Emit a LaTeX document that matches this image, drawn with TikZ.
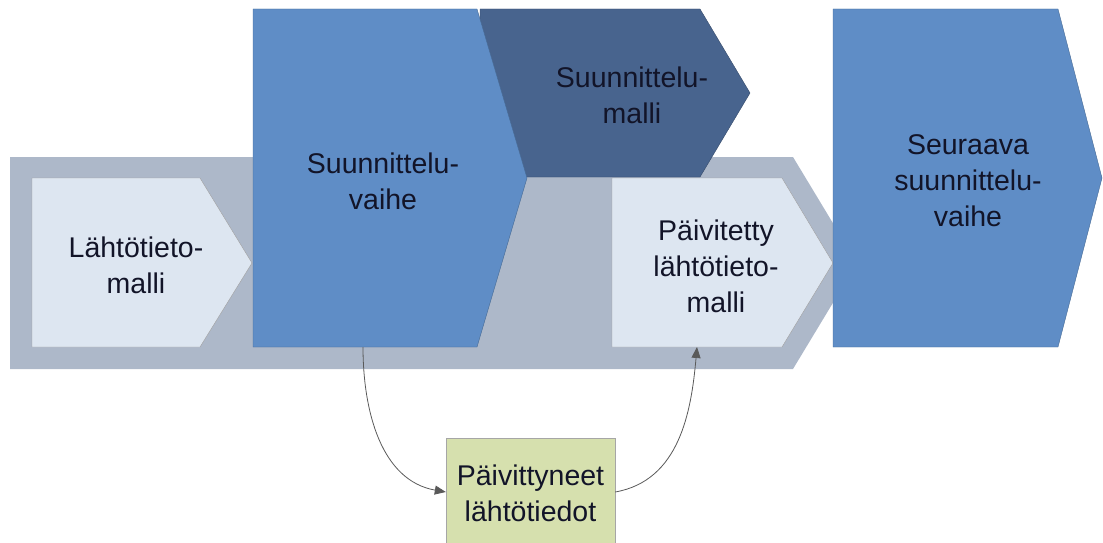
\documentclass[tikz,border=0pt]{standalone}
\usepackage{fontspec}
\setmainfont{Liberation Sans}
\usetikzlibrary{arrows.meta}

\definecolor{bandgray}{RGB}{173,184,201}
\definecolor{lightfill}{RGB}{221,230,241}
\definecolor{midblue}{RGB}{95,141,198}
\definecolor{darkblue}{RGB}{72,100,142}
\definecolor{greenfill}{RGB}{214,224,174}
\definecolor{textnavy}{RGB}{18,20,40}

\tikzset{
	band/.style = {fill = bandgray},
	lightbox/.style = {fill = lightfill, draw = gray!75},
	phasebox/.style = {fill = midblue, draw = midblue!75!black},
	modelbox/.style = {fill = darkblue, draw = darkblue!75!black},
	databox/.style = {fill = greenfill, draw = gray!70, inner sep = 0pt},
	label/.style = {align = center, inner sep = 0pt, text = textnavy,
		font = \fontsize{28.5}{36}\selectfont},
	flow/.style = {draw = black!65, line width = 0.8pt, -{Triangle[length = 11pt, width = 9pt]}}
}

\begin{document}
\begin{tikzpicture}[x = 1pt, y = -1pt]
	\useasboundingbox (0,0) rectangle (1103,543);

	\def\yTOP{9};
	\def\yBOT{347};

	% band behind the data models
	\fill [band] (10,157) -- (793,157) -- (857,263) -- (793,369) -- (10,369) -- cycle;

	\begin{scope}
		\filldraw [lightbox] (32,178) -- (200,178) -- (252,263) -- (200,\yBOT) -- (32,\yBOT) -- cycle;
		\node [label] (lahto) at (136,265) {Lähtötieto-\\malli};
	\end{scope}

	\begin{scope}
		\filldraw [modelbox] (480,\yTOP) -- (700,\yTOP) -- (750,93) -- (700,177) -- (480,177) -- cycle;
		\node [label] (malli) at (632,95) {Suunnittelu-\\malli};
	\end{scope}

	\begin{scope}
		\filldraw [phasebox] (253,\yTOP) -- (477,\yTOP) -- (527,178) -- (477,\yBOT) -- (253,\yBOT) -- cycle;
		\node [label] (vaihe) at (383,181) {Suunnittelu-\\vaihe};
		\coordinate (vaiheS) at (363,\yBOT);
	\end{scope}

	\begin{scope}
		\filldraw [lightbox] (612,178) -- (782,178) -- (833,263) -- (782,\yBOT) -- (612,\yBOT) -- cycle;
		\node [label] (paivitetty) at (716,266) {Päivitetty\\lähtötieto-\\malli};
		\coordinate (paivitettyS) at (697,\yBOT);
	\end{scope}

	\begin{scope}
		\filldraw [phasebox] (833,\yTOP) -- (1058,\yTOP) -- (1102,178) -- (1058,\yBOT) -- (833,\yBOT) -- cycle;
		\node [label] (seuraava) at (968,181) {Seuraava\\suunnittelu-\\vaihe};
	\end{scope}

	\node [databox, minimum width = 169pt, minimum height = 108pt] (tiedot) at (530.5,492) {};
	\node [label] at (tiedot.center) [yshift = -1pt] {Päivittyneet\\lähtötiedot};

	\draw [flow] (vaiheS) to [out = -90, in = 170] (tiedot.west);
	\draw [flow] (tiedot.east) to [out = 10, in = -95] (paivitettyS);
\end{tikzpicture}
\end{document}
